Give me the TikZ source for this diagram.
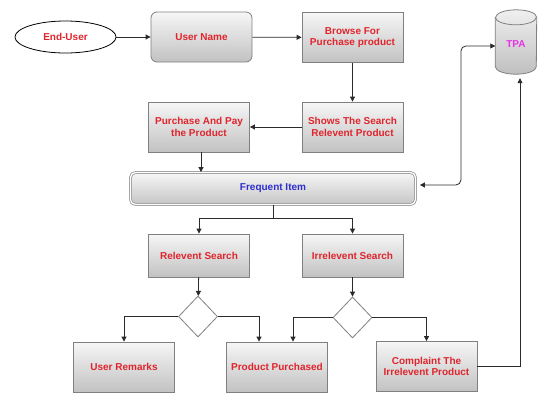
\documentclass[tikz,border=0pt]{standalone}
\usepackage{fontspec}
\setmainfont{Liberation Sans}
\usetikzlibrary{shapes.geometric,arrows.meta}
\definecolor{lbl}{HTML}{E0242C}
\definecolor{lblblue}{HTML}{2E2ED0}
\definecolor{lblmag}{HTML}{E632E6}
\definecolor{edge}{HTML}{808080}
\definecolor{wire}{HTML}{2A2A2A}
\begin{document}
\begin{tikzpicture}[x=1pt,y=-1pt,
  lblfont/.style={font=\fontsize{10}{11.5}\selectfont\bfseries},
  box/.style={draw=edge, line width=0.8pt, top color=gray!7, bottom color=gray!48,
    minimum width=101pt, minimum height=50pt, align=center, inner sep=1pt,
    lblfont, text=lbl},
  rbox/.style={box, rounded corners=6pt},
  decide/.style={diamond, draw=edge, line width=0.8pt, fill=white,
    minimum width=39pt, minimum height=41pt, inner sep=0pt},
  arr/.style={draw=wire, line width=0.8pt, -{Triangle[length=5pt,width=5pt]}},
  link/.style={draw=wire, line width=0.8pt},
  capr/.style={x radius=20.5pt, y radius=7.5pt}
]
\useasboundingbox (0,0) rectangle (546,407);

% nodes
\node[ellipse, draw=black, line width=0.8pt, fill=white, minimum width=101pt,
  minimum height=32pt, inner sep=0pt, lblfont, text=lbl] (user) at (65.5,37) {End-User};
\node[rbox] (uname) at (201.5,37) {User Name};
\node[box] (browse) at (352.5,37.5) {Browse For\\Purchase product};
\node[box] (shows) at (352.5,127) {Shows The Search\\Relevent Product};
\node[box] (pay) at (199,127) {Purchase And Pay\\the Product};
\node[draw=edge!80, line width=0.8pt, double=white, double distance=1.2pt,
  rounded corners=5pt, top color=gray!7, bottom color=gray!45,
  minimum width=285pt, minimum height=32pt, lblfont, text=lblblue] (freq) at (273,188.5) {Frequent Item};
\node[box, minimum height=43pt] (rel) at (199,255.5) {Relevent Search};
\node[box, minimum height=43pt] (irr) at (352.5,255.5) {Irrelevent Search};
\node[decide] (d1) at (198,316.5) {};
\node[decide] (d2) at (352.5,317.5) {};
\node[box] (remarks) at (124,367) {User Remarks};
\node[box] (bought) at (277,367) {Product Purchased};
\node[box] (complain) at (426.5,366.5) {Complaint The\\Irrelevent Product};

% TPA data store drawn as a cylinder around a plain node
\node[minimum width=41pt, minimum height=64pt, inner sep=0pt] (tpa) at (516,42) {};
\path[draw=edge, line width=0.8pt, top color=gray!12, bottom color=gray!50]
  ([yshift=-7.5pt]tpa.north west) -- ([yshift=7.5pt]tpa.south west)
  arc[start angle=180, end angle=360, capr] -- ([yshift=-7.5pt]tpa.north east)
  arc[start angle=0, end angle=180, capr] -- cycle;
\draw[edge, line width=0.8pt] ([yshift=-7.5pt]tpa.north west)
  arc[start angle=180, end angle=360, capr];
\node[lblfont, text=lblmag] (tpalbl) at (516,44) {TPA};

% connectors
\draw[arr] (user) -- (uname);
\draw[arr] (uname) -- (browse);
\draw[arr] (browse) -- (shows);
\draw[arr] (shows) -- (pay);
\draw[arr] ([xshift=2pt]pay.south) -- ([xshift=2pt]pay.south |- freq.north);
\draw[link] (freq.south) -- ++(0,13) coordinate (fork);
\draw[arr] (fork) -| (rel.north);
\draw[arr] (fork) -| (irr.north);
\draw[arr] (rel) -- (d1);
\draw[arr] (irr) -- (d2);
\draw[arr] (d1.west) -| (remarks.north);
\draw[arr] (d1.east) -| ([xshift=-18pt]bought.north);
\draw[arr] (d2.west) -| ([xshift=16pt]bought.north);
\draw[arr] (d2.east) -| (complain.north);
\draw[arr, shorten >=4pt] (complain.east) -| ([xshift=4pt]tpa.south);
\draw[link, {Triangle[length=5pt,width=5pt]}-{Triangle[length=5pt,width=5pt]},
  rounded corners=5pt, shorten <=4pt]
  ([yshift=3.5pt]freq.east) -- ++(45,0) |- ([yshift=-4pt]tpa.west);
\end{tikzpicture}
\end{document}
